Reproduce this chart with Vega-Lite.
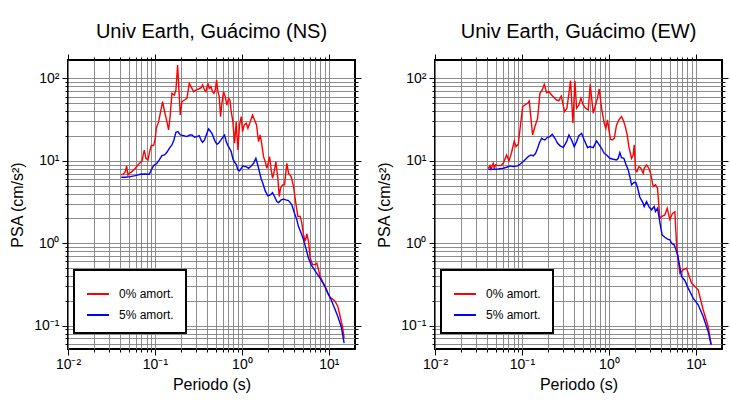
{
"$schema": "https://vega.github.io/schema/vega-lite/v6.json",
"padding": {"left": 8, "top": 20, "right": 5, "bottom": 5},
"bounds": "flush",
"spacing": 80,
"config": {
  "font": "Liberation Sans",
  "view": {"stroke": "black", "strokeWidth": 2},
  "axis": {"domain": false, "gridColor": "#808080", "gridWidth": 0.9, "gridOpacity": 1, "tickColor": "black", "tickWidth": 1, "labelFontSize": 14, "labelColor": "black", "titleFontSize": 16, "titleFontWeight": "normal", "titleColor": "black", "labelOverlap": false, "labelFlush": false},
  "legend": {"strokeWidth": 2},
  "title": {"fontSize": 20, "fontWeight": "normal", "color": "black", "offset": 12}
},
"resolve": {"scale": {"color": "independent"}, "legend": {"color": "independent"}},
"datasets": {
"ns": [
{"T":0.041,"psa":6.73,"s":"0% amort."},{"T":0.0436,"psa":6.92,"s":"0% amort."},{"T":0.0456,"psa":7.39,"s":"0% amort."},{"T":0.0472,"psa":8.66,"s":"0% amort."},{"T":0.0489,"psa":6.73,"s":"0% amort."},{"T":0.0507,"psa":7.06,"s":"0% amort."},{"T":0.0544,"psa":7.39,"s":"0% amort."},{"T":0.0594,"psa":8.11,"s":"0% amort."},{"T":0.0649,"psa":9.07,"s":"0% amort."},{"T":0.0709,"psa":9.95,"s":"0% amort."},{"T":0.0754,"psa":13.5,"s":"0% amort."},{"T":0.0788,"psa":10.7,"s":"0% amort."},{"T":0.0831,"psa":10.2,"s":"0% amort."},{"T":0.0869,"psa":12.9,"s":"0% amort."},{"T":0.0908,"psa":15.3,"s":"0% amort."},{"T":0.0965,"psa":15.3,"s":"0% amort."},{"T":0.1009,"psa":18.7,"s":"0% amort."},{"T":0.1036,"psa":24.8,"s":"0% amort."},{"T":0.1102,"psa":29.8,"s":"0% amort."},{"T":0.1162,"psa":39.5,"s":"0% amort."},{"T":0.1225,"psa":52.2,"s":"0% amort."},{"T":0.1291,"psa":39.5,"s":"0% amort."},{"T":0.1373,"psa":29.8,"s":"0% amort."},{"T":0.1436,"psa":23.7,"s":"0% amort."},{"T":0.15,"psa":35.9,"s":"0% amort."},{"T":0.1568,"psa":65.8,"s":"0% amort."},{"T":0.1668,"psa":62.8,"s":"0% amort."},{"T":0.1743,"psa":72.2,"s":"0% amort."},{"T":0.1822,"psa":145,"s":"0% amort."},{"T":0.1955,"psa":35.9,"s":"0% amort."},{"T":0.2043,"psa":52.2,"s":"0% amort."},{"T":0.2193,"psa":54.6,"s":"0% amort."},{"T":0.2333,"psa":57.2,"s":"0% amort."},{"T":0.2481,"psa":87.0,"s":"0% amort."},{"T":0.2662,"psa":75.7,"s":"0% amort."},{"T":0.2782,"psa":68.9,"s":"0% amort."},{"T":0.296,"psa":72.2,"s":"0% amort."},{"T":0.3177,"psa":74.3,"s":"0% amort."},{"T":0.3409,"psa":77.1,"s":"0% amort."},{"T":0.3531,"psa":83.0,"s":"0% amort."},{"T":0.3723,"psa":72.2,"s":"0% amort."},{"T":0.3857,"psa":68.9,"s":"0% amort."},{"T":0.4067,"psa":87.0,"s":"0% amort."},{"T":0.4212,"psa":75.7,"s":"0% amort."},{"T":0.4402,"psa":79.3,"s":"0% amort."},{"T":0.46,"psa":68.9,"s":"0% amort."},{"T":0.4766,"psa":65.8,"s":"0% amort."},{"T":0.4937,"psa":72.2,"s":"0% amort."},{"T":0.5115,"psa":95.5,"s":"0% amort."},{"T":0.5298,"psa":68.9,"s":"0% amort."},{"T":0.5488,"psa":60.0,"s":"0% amort."},{"T":0.5686,"psa":34.3,"s":"0% amort."},{"T":0.589,"psa":49.8,"s":"0% amort."},{"T":0.6156,"psa":68.9,"s":"0% amort."},{"T":0.6433,"psa":60.0,"s":"0% amort."},{"T":0.6722,"psa":47.5,"s":"0% amort."},{"T":0.7028,"psa":57.2,"s":"0% amort."},{"T":0.7279,"psa":54.6,"s":"0% amort."},{"T":0.754,"psa":39.5,"s":"0% amort."},{"T":0.788,"psa":29.8,"s":"0% amort."},{"T":0.8237,"psa":16.3,"s":"0% amort."},{"T":0.8609,"psa":29.8,"s":"0% amort."},{"T":0.8995,"psa":13.5,"s":"0% amort."},{"T":0.9401,"psa":27.2,"s":"0% amort."},{"T":0.9824,"psa":34.3,"s":"0% amort."},{"T":1.018,"psa":22.6,"s":"0% amort."},{"T":1.064,"psa":27.2,"s":"0% amort."},{"T":1.122,"psa":28.5,"s":"0% amort."},{"T":1.172,"psa":24.8,"s":"0% amort."},{"T":1.247,"psa":29.8,"s":"0% amort."},{"T":1.326,"psa":35.9,"s":"0% amort."},{"T":1.398,"psa":31.3,"s":"0% amort."},{"T":1.474,"psa":27.2,"s":"0% amort."},{"T":1.554,"psa":17.1,"s":"0% amort."},{"T":1.624,"psa":20.6,"s":"0% amort."},{"T":1.698,"psa":15.6,"s":"0% amort."},{"T":1.774,"psa":11.2,"s":"0% amort."},{"T":1.854,"psa":9.77,"s":"0% amort."},{"T":1.938,"psa":8.11,"s":"0% amort."},{"T":2.025,"psa":9.77,"s":"0% amort."},{"T":2.08,"psa":11.2,"s":"0% amort."},{"T":2.174,"psa":7.74,"s":"0% amort."},{"T":2.252,"psa":6.14,"s":"0% amort."},{"T":2.374,"psa":7.74,"s":"0% amort."},{"T":2.459,"psa":9.77,"s":"0% amort."},{"T":2.593,"psa":6.14,"s":"0% amort."},{"T":2.686,"psa":3.68,"s":"0% amort."},{"T":2.783,"psa":4.64,"s":"0% amort."},{"T":2.934,"psa":5.1,"s":"0% amort."},{"T":3.093,"psa":5.1,"s":"0% amort."},{"T":3.29,"psa":9.3,"s":"0% amort."},{"T":3.439,"psa":7.06,"s":"0% amort."},{"T":3.69,"psa":6.43,"s":"0% amort."},{"T":3.926,"psa":4.86,"s":"0% amort."},{"T":4.176,"psa":3.05,"s":"0% amort."},{"T":4.403,"psa":2.11,"s":"0% amort."},{"T":4.683,"psa":2.11,"s":"0% amort."},{"T":4.894,"psa":1.75,"s":"0% amort."},{"T":5.115,"psa":1.26,"s":"0% amort."},{"T":5.346,"psa":1.05,"s":"0% amort."},{"T":5.587,"psa":1.3,"s":"0% amort."},{"T":5.84,"psa":1.05,"s":"0% amort."},{"T":6.102,"psa":0.66,"s":"0% amort."},{"T":6.492,"psa":0.55,"s":"0% amort."},{"T":6.965,"psa":0.55,"s":"0% amort."},{"T":7.278,"psa":0.57,"s":"0% amort."},{"T":7.606,"psa":0.475,"s":"0% amort."},{"T":7.95,"psa":0.394,"s":"0% amort."},{"T":8.456,"psa":0.343,"s":"0% amort."},{"T":9.077,"psa":0.298,"s":"0% amort."},{"T":9.739,"psa":0.248,"s":"0% amort."},{"T":10.36,"psa":0.22,"s":"0% amort."},{"T":11.02,"psa":0.21,"s":"0% amort."},{"T":11.83,"psa":0.196,"s":"0% amort."},{"T":12.69,"psa":0.171,"s":"0% amort."},{"T":13.5,"psa":0.129,"s":"0% amort."},{"T":14.36,"psa":0.098,"s":"0% amort."},{"T":15.0,"psa":0.0706,"s":"0% amort."},
{"T":0.041,"psa":6.31,"s":"5% amort."},{"T":0.0456,"psa":6.31,"s":"5% amort."},{"T":0.052,"psa":6.43,"s":"5% amort."},{"T":0.0594,"psa":6.61,"s":"5% amort."},{"T":0.0678,"psa":6.86,"s":"5% amort."},{"T":0.0774,"psa":6.92,"s":"5% amort."},{"T":0.0861,"psa":6.86,"s":"5% amort."},{"T":0.0908,"psa":7.74,"s":"5% amort."},{"T":0.0965,"psa":8.74,"s":"5% amort."},{"T":0.1054,"psa":9.33,"s":"5% amort."},{"T":0.1121,"psa":10.23,"s":"5% amort."},{"T":0.1203,"psa":11.55,"s":"5% amort."},{"T":0.1291,"psa":11.77,"s":"5% amort."},{"T":0.1373,"psa":12.68,"s":"5% amort."},{"T":0.1462,"psa":14.17,"s":"5% amort."},{"T":0.1568,"psa":15.56,"s":"5% amort."},{"T":0.1653,"psa":17.88,"s":"5% amort."},{"T":0.1743,"psa":22.16,"s":"5% amort."},{"T":0.1838,"psa":22.57,"s":"5% amort."},{"T":0.1955,"psa":20.56,"s":"5% amort."},{"T":0.2136,"psa":20.19,"s":"5% amort."},{"T":0.2333,"psa":19.64,"s":"5% amort."},{"T":0.2503,"psa":20.56,"s":"5% amort."},{"T":0.2662,"psa":20.56,"s":"5% amort."},{"T":0.2857,"psa":19.27,"s":"5% amort."},{"T":0.3039,"psa":19.64,"s":"5% amort."},{"T":0.3233,"psa":20.19,"s":"5% amort."},{"T":0.3378,"psa":17.88,"s":"5% amort."},{"T":0.3531,"psa":16.76,"s":"5% amort."},{"T":0.3723,"psa":17.88,"s":"5% amort."},{"T":0.396,"psa":21.54,"s":"5% amort."},{"T":0.4139,"psa":24.31,"s":"5% amort."},{"T":0.4325,"psa":22.99,"s":"5% amort."},{"T":0.4519,"psa":21.54,"s":"5% amort."},{"T":0.4724,"psa":19.09,"s":"5% amort."},{"T":0.4937,"psa":17.08,"s":"5% amort."},{"T":0.5161,"psa":15.85,"s":"5% amort."},{"T":0.5393,"psa":16.3,"s":"5% amort."},{"T":0.5636,"psa":17.39,"s":"5% amort."},{"T":0.5995,"psa":19.09,"s":"5% amort."},{"T":0.6321,"psa":20.56,"s":"5% amort."},{"T":0.6607,"psa":17.08,"s":"5% amort."},{"T":0.6904,"psa":15.27,"s":"5% amort."},{"T":0.7215,"psa":14.17,"s":"5% amort."},{"T":0.754,"psa":12.92,"s":"5% amort."},{"T":0.788,"psa":10.53,"s":"5% amort."},{"T":0.8237,"psa":9.59,"s":"5% amort."},{"T":0.8609,"psa":9.07,"s":"5% amort."},{"T":0.8995,"psa":7.74,"s":"5% amort."},{"T":0.9401,"psa":7.53,"s":"5% amort."},{"T":0.9824,"psa":8.11,"s":"5% amort."},{"T":1.027,"psa":8.66,"s":"5% amort."},{"T":1.073,"psa":8.5,"s":"5% amort."},{"T":1.122,"psa":8.5,"s":"5% amort."},{"T":1.193,"psa":8.11,"s":"5% amort."},{"T":1.28,"psa":8.66,"s":"5% amort."},{"T":1.362,"psa":9.33,"s":"5% amort."},{"T":1.448,"psa":10.72,"s":"5% amort."},{"T":1.514,"psa":9.07,"s":"5% amort."},{"T":1.582,"psa":7.53,"s":"5% amort."},{"T":1.668,"psa":6.02,"s":"5% amort."},{"T":1.743,"psa":5.34,"s":"5% amort."},{"T":1.854,"psa":4.31,"s":"5% amort."},{"T":1.99,"psa":3.75,"s":"5% amort."},{"T":2.117,"psa":3.85,"s":"5% amort."},{"T":2.252,"psa":4.11,"s":"5% amort."},{"T":2.374,"psa":3.68,"s":"5% amort."},{"T":2.525,"psa":3.2,"s":"5% amort."},{"T":2.639,"psa":3.11,"s":"5% amort."},{"T":2.832,"psa":3.35,"s":"5% amort."},{"T":3.012,"psa":3.42,"s":"5% amort."},{"T":3.204,"psa":3.35,"s":"5% amort."},{"T":3.439,"psa":3.29,"s":"5% amort."},{"T":3.594,"psa":3.11,"s":"5% amort."},{"T":3.756,"psa":2.91,"s":"5% amort."},{"T":4.03,"psa":2.31,"s":"5% amort."},{"T":4.288,"psa":1.92,"s":"5% amort."},{"T":4.48,"psa":1.59,"s":"5% amort."},{"T":4.808,"psa":1.32,"s":"5% amort."},{"T":5.115,"psa":1.1,"s":"5% amort."},{"T":5.44,"psa":0.87,"s":"5% amort."},{"T":5.84,"psa":0.658,"s":"5% amort."},{"T":6.266,"psa":0.546,"s":"5% amort."},{"T":6.843,"psa":0.475,"s":"5% amort."},{"T":7.474,"psa":0.413,"s":"5% amort."},{"T":8.165,"psa":0.359,"s":"5% amort."},{"T":8.917,"psa":0.304,"s":"5% amort."},{"T":9.739,"psa":0.248,"s":"5% amort."},{"T":10.64,"psa":0.206,"s":"5% amort."},{"T":11.62,"psa":0.163,"s":"5% amort."},{"T":12.69,"psa":0.129,"s":"5% amort."},{"T":13.86,"psa":0.0977,"s":"5% amort."},{"T":15.0,"psa":0.0614,"s":"5% amort."}
],
"ew": [
{"T":0.041,"psa":8.11,"s":"0% amort."},{"T":0.0429,"psa":8.74,"s":"0% amort."},{"T":0.044,"psa":7.89,"s":"0% amort."},{"T":0.0468,"psa":9.33,"s":"0% amort."},{"T":0.0481,"psa":8.11,"s":"0% amort."},{"T":0.0498,"psa":8.9,"s":"0% amort."},{"T":0.0535,"psa":8.74,"s":"0% amort."},{"T":0.0574,"psa":8.74,"s":"0% amort."},{"T":0.061,"psa":9.33,"s":"0% amort."},{"T":0.0666,"psa":11.77,"s":"0% amort."},{"T":0.0709,"psa":9.95,"s":"0% amort."},{"T":0.0761,"psa":12.68,"s":"0% amort."},{"T":0.0816,"psa":17.39,"s":"0% amort."},{"T":0.0853,"psa":14.85,"s":"0% amort."},{"T":0.0908,"psa":15.85,"s":"0% amort."},{"T":0.0948,"psa":23.65,"s":"0% amort."},{"T":0.1018,"psa":45.4,"s":"0% amort."},{"T":0.1083,"psa":47.5,"s":"0% amort."},{"T":0.1162,"psa":49.8,"s":"0% amort."},{"T":0.1214,"psa":53.1,"s":"0% amort."},{"T":0.1269,"psa":32.7,"s":"0% amort."},{"T":0.1326,"psa":20.6,"s":"0% amort."},{"T":0.1411,"psa":26.0,"s":"0% amort."},{"T":0.1514,"psa":32.7,"s":"0% amort."},{"T":0.161,"psa":65.8,"s":"0% amort."},{"T":0.1713,"psa":72.2,"s":"0% amort."},{"T":0.1806,"psa":84.6,"s":"0% amort."},{"T":0.192,"psa":67.0,"s":"0% amort."},{"T":0.2043,"psa":68.9,"s":"0% amort."},{"T":0.2193,"psa":62.8,"s":"0% amort."},{"T":0.2353,"psa":58.3,"s":"0% amort."},{"T":0.2503,"psa":54.6,"s":"0% amort."},{"T":0.2662,"psa":53.6,"s":"0% amort."},{"T":0.2832,"psa":61.1,"s":"0% amort."},{"T":0.3093,"psa":39.5,"s":"0% amort."},{"T":0.3291,"psa":43.3,"s":"0% amort."},{"T":0.3625,"psa":93.7,"s":"0% amort."},{"T":0.3857,"psa":28.5,"s":"0% amort."},{"T":0.4067,"psa":92.8,"s":"0% amort."},{"T":0.425,"psa":43.3,"s":"0% amort."},{"T":0.4519,"psa":47.5,"s":"0% amort."},{"T":0.4766,"psa":57.2,"s":"0% amort."},{"T":0.507,"psa":47.5,"s":"0% amort."},{"T":0.5393,"psa":43.3,"s":"0% amort."},{"T":0.5787,"psa":41.3,"s":"0% amort."},{"T":0.6101,"psa":84.6,"s":"0% amort."},{"T":0.6607,"psa":37.7,"s":"0% amort."},{"T":0.7028,"psa":47.5,"s":"0% amort."},{"T":0.7412,"psa":58.3,"s":"0% amort."},{"T":0.7744,"psa":74.3,"s":"0% amort."},{"T":0.8237,"psa":43.3,"s":"0% amort."},{"T":0.884,"psa":28.5,"s":"0% amort."},{"T":0.9236,"psa":24.8,"s":"0% amort."},{"T":0.9653,"psa":31.3,"s":"0% amort."},{"T":1.0,"psa":23.65,"s":"0% amort."},{"T":1.045,"psa":18.2,"s":"0% amort."},{"T":1.092,"psa":17.9,"s":"0% amort."},{"T":1.152,"psa":18.7,"s":"0% amort."},{"T":1.225,"psa":27.2,"s":"0% amort."},{"T":1.303,"psa":31.3,"s":"0% amort."},{"T":1.398,"psa":34.3,"s":"0% amort."},{"T":1.461,"psa":31.3,"s":"0% amort."},{"T":1.527,"psa":27.2,"s":"0% amort."},{"T":1.624,"psa":20.6,"s":"0% amort."},{"T":1.698,"psa":14.85,"s":"0% amort."},{"T":1.822,"psa":10.7,"s":"0% amort."},{"T":1.905,"psa":11.77,"s":"0% amort."},{"T":1.955,"psa":15.6,"s":"0% amort."},{"T":2.025,"psa":7.74,"s":"0% amort."},{"T":2.098,"psa":7.39,"s":"0% amort."},{"T":2.213,"psa":8.5,"s":"0% amort."},{"T":2.333,"psa":8.11,"s":"0% amort."},{"T":2.481,"psa":7.06,"s":"0% amort."},{"T":2.547,"psa":8.11,"s":"0% amort."},{"T":2.71,"psa":8.9,"s":"0% amort."},{"T":2.884,"psa":8.11,"s":"0% amort."},{"T":3.012,"psa":7.06,"s":"0% amort."},{"T":3.233,"psa":4.86,"s":"0% amort."},{"T":3.439,"psa":5.1,"s":"0% amort."},{"T":3.626,"psa":4.64,"s":"0% amort."},{"T":3.857,"psa":2.0,"s":"0% amort."},{"T":4.03,"psa":2.1,"s":"0% amort."},{"T":4.403,"psa":2.2,"s":"0% amort."},{"T":4.683,"psa":2.66,"s":"0% amort."},{"T":5.024,"psa":1.95,"s":"0% amort."},{"T":5.394,"psa":2.3,"s":"0% amort."},{"T":5.738,"psa":2.4,"s":"0% amort."},{"T":5.995,"psa":1.0,"s":"0% amort."},{"T":6.266,"psa":0.628,"s":"0% amort."},{"T":6.549,"psa":0.433,"s":"0% amort."},{"T":7.152,"psa":0.475,"s":"0% amort."},{"T":7.811,"psa":0.498,"s":"0% amort."},{"T":8.165,"psa":0.433,"s":"0% amort."},{"T":8.917,"psa":0.327,"s":"0% amort."},{"T":9.318,"psa":0.313,"s":"0% amort."},{"T":10.64,"psa":0.272,"s":"0% amort."},{"T":12.14,"psa":0.1555,"s":"0% amort."},{"T":13.86,"psa":0.0977,"s":"0% amort."},{"T":15.0,"psa":0.0586,"s":"0% amort."},
{"T":0.041,"psa":7.89,"s":"5% amort."},{"T":0.0468,"psa":7.89,"s":"5% amort."},{"T":0.0535,"psa":7.96,"s":"5% amort."},{"T":0.061,"psa":8.11,"s":"5% amort."},{"T":0.0666,"psa":8.34,"s":"5% amort."},{"T":0.0728,"psa":8.66,"s":"5% amort."},{"T":0.0795,"psa":8.5,"s":"5% amort."},{"T":0.0892,"psa":8.66,"s":"5% amort."},{"T":0.0948,"psa":9.07,"s":"5% amort."},{"T":0.1036,"psa":9.77,"s":"5% amort."},{"T":0.1102,"psa":10.43,"s":"5% amort."},{"T":0.1182,"psa":11.23,"s":"5% amort."},{"T":0.1269,"psa":11.77,"s":"5% amort."},{"T":0.135,"psa":11.45,"s":"5% amort."},{"T":0.1436,"psa":12.33,"s":"5% amort."},{"T":0.1514,"psa":14.17,"s":"5% amort."},{"T":0.1582,"psa":16.3,"s":"5% amort."},{"T":0.1683,"psa":18.74,"s":"5% amort."},{"T":0.1759,"psa":18.22,"s":"5% amort."},{"T":0.1838,"psa":17.88,"s":"5% amort."},{"T":0.1955,"psa":19.09,"s":"5% amort."},{"T":0.2099,"psa":19.64,"s":"5% amort."},{"T":0.2232,"psa":20.95,"s":"5% amort."},{"T":0.2395,"psa":18.74,"s":"5% amort."},{"T":0.257,"psa":16.3,"s":"5% amort."},{"T":0.2734,"psa":15.27,"s":"5% amort."},{"T":0.2986,"psa":14.44,"s":"5% amort."},{"T":0.3262,"psa":17.08,"s":"5% amort."},{"T":0.3468,"psa":20.56,"s":"5% amort."},{"T":0.3723,"psa":17.88,"s":"5% amort."},{"T":0.3995,"psa":14.85,"s":"5% amort."},{"T":0.425,"psa":17.08,"s":"5% amort."},{"T":0.4519,"psa":20.19,"s":"5% amort."},{"T":0.4851,"psa":21.54,"s":"5% amort."},{"T":0.5205,"psa":17.88,"s":"5% amort."},{"T":0.5686,"psa":14.44,"s":"5% amort."},{"T":0.6048,"psa":14.85,"s":"5% amort."},{"T":0.6607,"psa":14.44,"s":"5% amort."},{"T":0.7215,"psa":17.39,"s":"5% amort."},{"T":0.7674,"psa":15.85,"s":"5% amort."},{"T":0.8237,"psa":14.17,"s":"5% amort."},{"T":0.884,"psa":12.33,"s":"5% amort."},{"T":0.9401,"psa":11.77,"s":"5% amort."},{"T":1.027,"psa":10.72,"s":"5% amort."},{"T":1.122,"psa":10.43,"s":"5% amort."},{"T":1.225,"psa":10.23,"s":"5% amort."},{"T":1.28,"psa":10.72,"s":"5% amort."},{"T":1.338,"psa":12.56,"s":"5% amort."},{"T":1.398,"psa":10.92,"s":"5% amort."},{"T":1.487,"psa":10.72,"s":"5% amort."},{"T":1.568,"psa":9.07,"s":"5% amort."},{"T":1.668,"psa":7.74,"s":"5% amort."},{"T":1.743,"psa":6.43,"s":"5% amort."},{"T":1.822,"psa":5.1,"s":"5% amort."},{"T":1.955,"psa":5.49,"s":"5% amort."},{"T":2.043,"psa":5.44,"s":"5% amort."},{"T":2.136,"psa":4.73,"s":"5% amort."},{"T":2.272,"psa":3.61,"s":"5% amort."},{"T":2.459,"psa":3.11,"s":"5% amort."},{"T":2.547,"psa":2.78,"s":"5% amort."},{"T":2.71,"psa":3.2,"s":"5% amort."},{"T":2.884,"psa":2.78,"s":"5% amort."},{"T":3.093,"psa":2.54,"s":"5% amort."},{"T":3.319,"psa":2.78,"s":"5% amort."},{"T":3.439,"psa":2.42,"s":"5% amort."},{"T":3.626,"psa":2.66,"s":"5% amort."},{"T":3.789,"psa":2.01,"s":"5% amort."},{"T":3.96,"psa":1.52,"s":"5% amort."},{"T":4.103,"psa":1.26,"s":"5% amort."},{"T":4.403,"psa":1.18,"s":"5% amort."},{"T":4.724,"psa":1.12,"s":"5% amort."},{"T":5.024,"psa":1.1,"s":"5% amort."},{"T":5.252,"psa":1.0,"s":"5% amort."},{"T":5.636,"psa":0.955,"s":"5% amort."},{"T":5.84,"psa":0.87,"s":"5% amort."},{"T":6.156,"psa":0.722,"s":"5% amort."},{"T":6.434,"psa":0.572,"s":"5% amort."},{"T":6.843,"psa":0.394,"s":"5% amort."},{"T":7.474,"psa":0.353,"s":"5% amort."},{"T":8.165,"psa":0.285,"s":"5% amort."},{"T":9.318,"psa":0.215,"s":"5% amort."},{"T":10.64,"psa":0.179,"s":"5% amort."},{"T":12.14,"psa":0.129,"s":"5% amort."},{"T":13.86,"psa":0.085,"s":"5% amort."},{"T":15.0,"psa":0.0586,"s":"5% amort."}
]
},
"hconcat": [
{
  "width": 287, "height": 289,
  "title": "Univ Earth, Guácimo (NS)",
  "data": {"name": "ns"},
  "resolve": {"axis": {"x": "independent", "y": "independent"}},
  "layer": [
    {"mark": {"type": "line", "strokeWidth": 1.4},
     "encoding": {
       "x": {"field": "T", "type": "quantitative", "scale": {"type": "log", "domain": [0.01, 20], "nice": false, "zero": false},
             "axis": {"orient": "bottom", "title": "Periodo (s)", "grid": true, "values": [0.01,0.02,0.03,0.04,0.05,0.06,0.07,0.08,0.09,0.1,0.2,0.3,0.4,0.5,0.6,0.7,0.8,0.9,1,2,3,4,5,6,7,8,9,10],
                      "labelExpr": "datum.value==0.01?'10⁻²':datum.value==0.1?'10⁻¹':datum.value==1?'10⁰':datum.value==10?'10¹':''",
                      "tickSize": {"condition": {"test": "datum.value==0.01||datum.value==0.1||datum.value==1||datum.value==10", "value": 6}, "value": 3},
                      "labelPadding": 2, "titlePadding": 5}},
       "y": {"field": "psa", "type": "quantitative", "scale": {"type": "log", "domain": [0.052, 167], "nice": false, "zero": false},
             "axis": {"orient": "left", "title": "PSA (cm/s²)", "titleFontSize": 16, "grid": true, "values": [0.06,0.07,0.08,0.09,0.1,0.2,0.3,0.4,0.5,0.6,0.7,0.8,0.9,1,2,3,4,5,6,7,8,9,10,20,30,40,50,60,70,80,90,100],
                      "labelExpr": "datum.value==0.1?'10⁻¹':datum.value==1?'10⁰':datum.value==10?'10¹':datum.value==100?'10²':''",
                      "tickSize": {"condition": {"test": "datum.value==0.1||datum.value==1||datum.value==10||datum.value==100", "value": 6}, "value": 3},
                      "labelPadding": 3, "titlePadding": 8}},
       "color": {"field": "s", "type": "nominal", "scale": {"domain": ["0% amort.", "5% amort."], "range": ["#ff0000", "#0000ff"]},
                 "legend": {"title": null, "orient": "none", "legendX": 6, "legendY": 210, "fillColor": "white", "strokeColor": "black", "padding": 12, "symbolType": "stroke", "symbolSize": 484, "symbolStrokeWidth": 2, "labelFontSize": 12, "labelColor": "black", "labelOffset": 9, "rowPadding": 3}}
     }},
    {"mark": {"type": "line", "opacity": 0},
     "encoding": {
       "x": {"field": "T", "type": "quantitative", "scale": {"type": "log", "domain": [0.01, 20], "nice": false, "zero": false},
             "axis": {"orient": "top", "title": null, "grid": false, "labels": false, "values": [0.01,0.02,0.03,0.04,0.05,0.06,0.07,0.08,0.09,0.1,0.2,0.3,0.4,0.5,0.6,0.7,0.8,0.9,1,2,3,4,5,6,7,8,9,10],
                      "tickSize": {"condition": {"test": "datum.value==0.01||datum.value==0.1||datum.value==1||datum.value==10", "value": 6}, "value": 3}}},
       "y": {"field": "psa", "type": "quantitative", "scale": {"type": "log", "domain": [0.052, 167], "nice": false, "zero": false},
             "axis": {"orient": "right", "title": null, "grid": false, "labels": false, "values": [0.06,0.07,0.08,0.09,0.1,0.2,0.3,0.4,0.5,0.6,0.7,0.8,0.9,1,2,3,4,5,6,7,8,9,10,20,30,40,50,60,70,80,90,100],
                      "tickSize": {"condition": {"test": "datum.value==0.1||datum.value==1||datum.value==10||datum.value==100", "value": 6}, "value": 3}}}
     }}
  ]
},
{
  "width": 287, "height": 289,
  "title": "Univ Earth, Guácimo (EW)",
  "data": {"name": "ew"},
  "resolve": {"axis": {"x": "independent", "y": "independent"}},
  "layer": [
    {"mark": {"type": "line", "strokeWidth": 1.4},
     "encoding": {
       "x": {"field": "T", "type": "quantitative", "scale": {"type": "log", "domain": [0.01, 20], "nice": false, "zero": false},
             "axis": {"orient": "bottom", "title": "Periodo (s)", "grid": true, "values": [0.01,0.02,0.03,0.04,0.05,0.06,0.07,0.08,0.09,0.1,0.2,0.3,0.4,0.5,0.6,0.7,0.8,0.9,1,2,3,4,5,6,7,8,9,10],
                      "labelExpr": "datum.value==0.01?'10⁻²':datum.value==0.1?'10⁻¹':datum.value==1?'10⁰':datum.value==10?'10¹':''",
                      "tickSize": {"condition": {"test": "datum.value==0.01||datum.value==0.1||datum.value==1||datum.value==10", "value": 6}, "value": 3},
                      "labelPadding": 2, "titlePadding": 5}},
       "y": {"field": "psa", "type": "quantitative", "scale": {"type": "log", "domain": [0.052, 167], "nice": false, "zero": false},
             "axis": {"orient": "left", "title": "PSA (cm/s²)", "titleFontSize": 16, "grid": true, "values": [0.06,0.07,0.08,0.09,0.1,0.2,0.3,0.4,0.5,0.6,0.7,0.8,0.9,1,2,3,4,5,6,7,8,9,10,20,30,40,50,60,70,80,90,100],
                      "labelExpr": "datum.value==0.1?'10⁻¹':datum.value==1?'10⁰':datum.value==10?'10¹':datum.value==100?'10²':''",
                      "tickSize": {"condition": {"test": "datum.value==0.1||datum.value==1||datum.value==10||datum.value==100", "value": 6}, "value": 3},
                      "labelPadding": 3, "titlePadding": 8}},
       "color": {"field": "s", "type": "nominal", "scale": {"domain": ["0% amort.", "5% amort."], "range": ["#ff0000", "#0000ff"]},
                 "legend": {"title": null, "orient": "none", "legendX": 6, "legendY": 210, "fillColor": "white", "strokeColor": "black", "padding": 12, "symbolType": "stroke", "symbolSize": 484, "symbolStrokeWidth": 2, "labelFontSize": 12, "labelColor": "black", "labelOffset": 9, "rowPadding": 3}}
     }},
    {"mark": {"type": "line", "opacity": 0},
     "encoding": {
       "x": {"field": "T", "type": "quantitative", "scale": {"type": "log", "domain": [0.01, 20], "nice": false, "zero": false},
             "axis": {"orient": "top", "title": null, "grid": false, "labels": false, "values": [0.01,0.02,0.03,0.04,0.05,0.06,0.07,0.08,0.09,0.1,0.2,0.3,0.4,0.5,0.6,0.7,0.8,0.9,1,2,3,4,5,6,7,8,9,10],
                      "tickSize": {"condition": {"test": "datum.value==0.01||datum.value==0.1||datum.value==1||datum.value==10", "value": 6}, "value": 3}}},
       "y": {"field": "psa", "type": "quantitative", "scale": {"type": "log", "domain": [0.052, 167], "nice": false, "zero": false},
             "axis": {"orient": "right", "title": null, "grid": false, "labels": false, "values": [0.06,0.07,0.08,0.09,0.1,0.2,0.3,0.4,0.5,0.6,0.7,0.8,0.9,1,2,3,4,5,6,7,8,9,10,20,30,40,50,60,70,80,90,100],
                      "tickSize": {"condition": {"test": "datum.value==0.1||datum.value==1||datum.value==10||datum.value==100", "value": 6}, "value": 3}}}
     }}
  ]
}
]
}
